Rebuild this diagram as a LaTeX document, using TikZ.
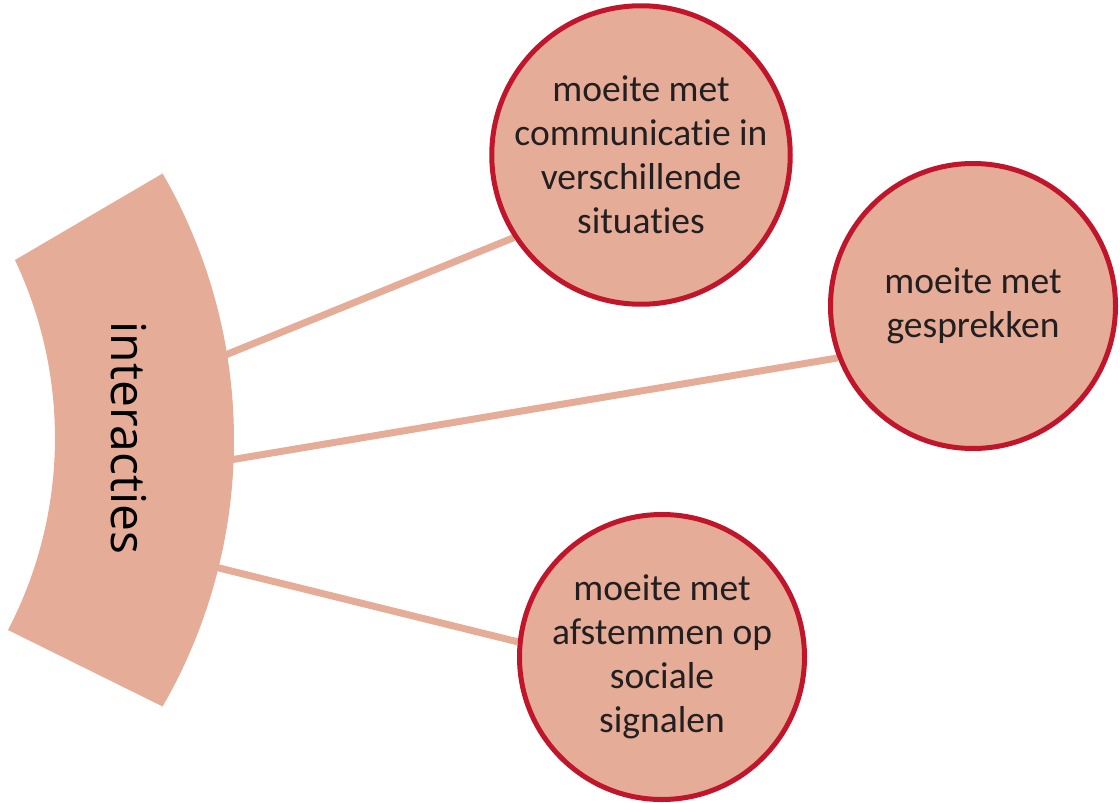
\documentclass[tikz,border=0pt]{standalone}
\usepackage{fontspec}
\setmainfont[Ligatures={NoCommon,NoContextual}]{Carlito}
\newfontfamily\hubfont{Open Sans}
\definecolor{salmon}{HTML}{E5AC98}
\definecolor{crimson}{HTML}{C1152B}
\definecolor{inkgrey}{HTML}{231F20}
\pgfdeclarelayer{background}
\pgfsetlayers{background,main}

\begin{document}
\begin{tikzpicture}[x=1pt,y=-1pt,
		bubble/.style={circle,draw=crimson,line width=5pt,fill=salmon,minimum size=285pt,inner sep=0pt,align=center,text=inkgrey,font=\fontsize{37.5}{44}\selectfont},
		spoke/.style={draw=salmon,line width=7pt}]
		\useasboundingbox (0,0) rectangle (1120,803);
		%%%%% ARC %%%%%
		\fill[salmon] (15,260) -- ([shift={(-299,440)}]-30:533) arc[start angle=-30,end angle=30,radius=533]
			-- (8,630) arc[start angle=27.5,end angle=-25.35,radius=415.8] -- cycle;
		\node[rotate=-90,font=\hubfont\fontsize{48}{58}\selectfont] (hub) at (129,438) {interacties};
		
		\coordinate (hubtop) at (218,358);
		\coordinate (hubmid) at (224,461);
		\coordinate (hubbot) at (211,566);
		
		%%%%% CIRCLES %%%%%
		\node[bubble] (situaties) at (641,155) {moeite met\\communicatie in\\verschillende\\situaties};
		\node[bubble] (gesprekken) at (973,306) {moeite met\\gesprekken};
		\node[bubble] (signalen) at (662,657) {moeite met\\afstemmen op\\sociale\\signalen};
		
		\begin{pgfonlayer}{background}
		\draw[spoke] (hubtop) -- (situaties.213);
		\draw[spoke] (hubmid) -- (gesprekken.201);
		\draw[spoke] (hubbot) -- (signalen.174);
		\end{pgfonlayer}
		%%%%% END %%%%%
	\end{tikzpicture}
\end{document}
